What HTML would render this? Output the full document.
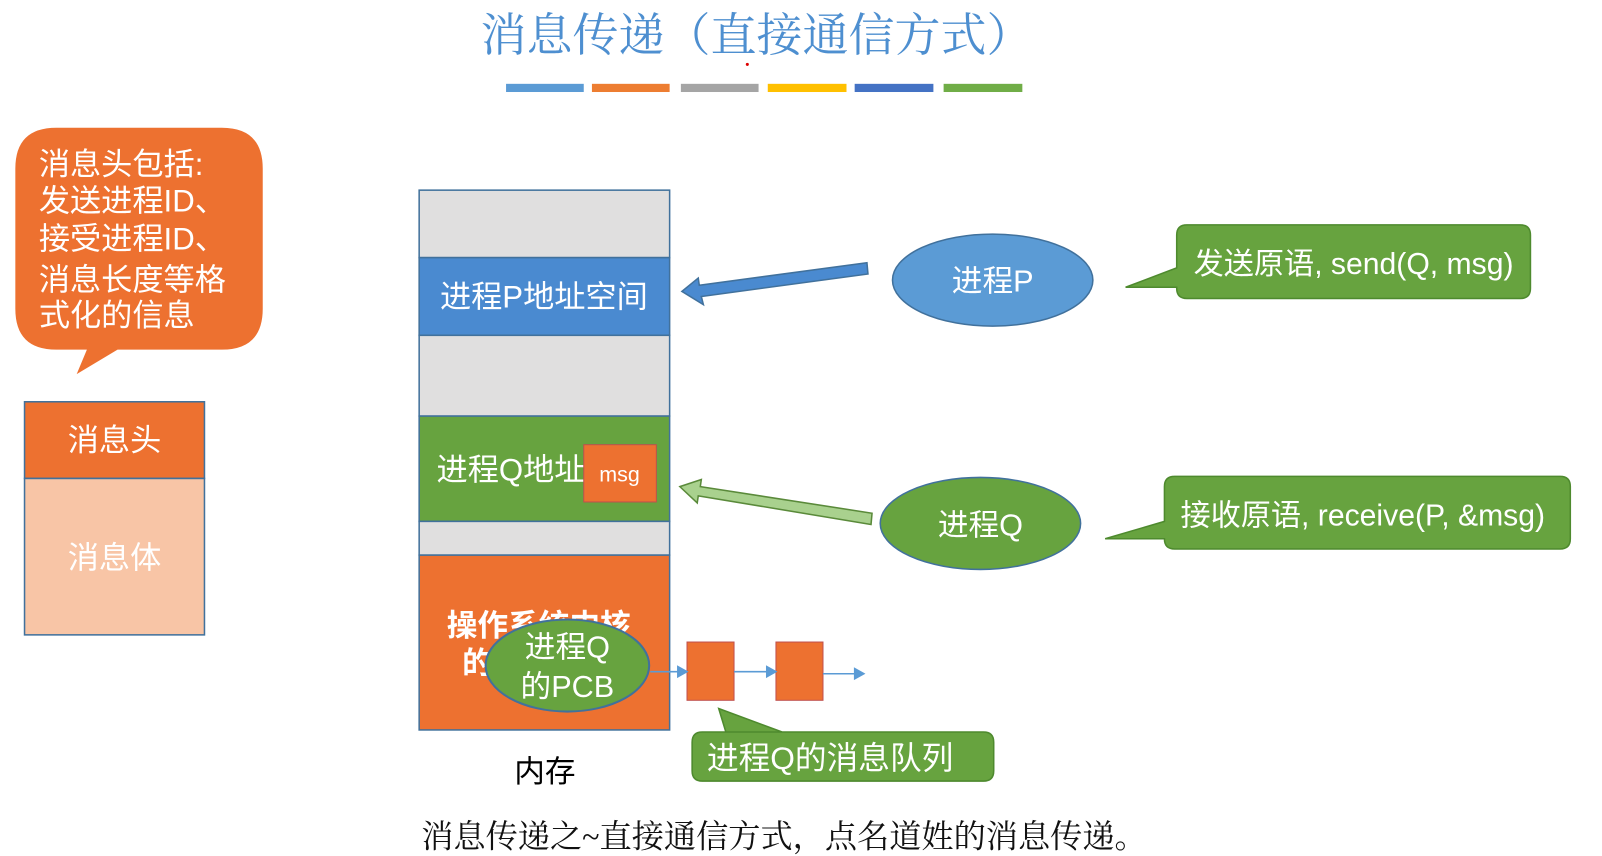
<!DOCTYPE html>
<html><head><meta charset="utf-8"><style>
html,body{margin:0;padding:0;background:#fff;width:1602px;height:856px;overflow:hidden}
svg{display:block}
.s{font-family:"Liberation Sans","Noto Sans CJK SC",sans-serif}
.r{font-family:"Liberation Serif","Noto Serif CJK SC",serif}
</style></head><body>
<svg width="1602" height="856" viewBox="0 0 1567 837.3" preserveAspectRatio="none" xmlns="http://www.w3.org/2000/svg">
<text x="740" y="50" text-anchor="middle" class="r" font-size="45" fill="#4e8fd0">消息传递（直接通信方式）</text>
<circle cx="731" cy="63" r="1.5" fill="#d00"/>
<g stroke-width="0">
<rect x="495" y="82" width="76" height="8" fill="#5b9bd5"/>
<rect x="579" y="82" width="76" height="8" fill="#ed7d31"/>
<rect x="666" y="82" width="76" height="8" fill="#a5a5a5"/>
<rect x="751" y="82" width="77" height="8" fill="#ffc000"/>
<rect x="836" y="82" width="77" height="8" fill="#4472c4"/>
<rect x="923" y="82" width="77" height="8" fill="#70ad47"/>
</g>
<path d="M55,125 H217 Q257,125 257,165 V302 Q257,342 217,342 H115 L75,366 L85,342 H55 Q15,342 15,302 V165 Q15,125 55,125 Z" fill="#ed7130"/>
<g class="s" font-size="30.5" fill="#fff">
<text x="38" y="171">消息头包括:</text>
<text x="38" y="207">发送进程ID、</text>
<text x="38" y="244">接受进程ID、</text>
<text x="38" y="284">消息长度等格</text>
<text x="38" y="319">式化的信息</text>
</g>
<rect x="24" y="393" width="176" height="75" fill="#ed7130" stroke="#41719c" stroke-width="1.5"/>
<rect x="24" y="468" width="176" height="153" fill="#f8c5a6" stroke="#41719c" stroke-width="1.5"/>
<text x="112" y="441" text-anchor="middle" class="s" font-size="30.5" fill="#fff">消息头</text>
<text x="112" y="556" text-anchor="middle" class="s" font-size="30.5" fill="#fff">消息体</text>
<g stroke="#41719c" stroke-width="1.5">
<rect x="410" y="186" width="245" height="66" fill="#e0dfdf"/>
<rect x="410" y="252" width="245" height="76" fill="#4a8ad0"/>
<rect x="410" y="328" width="245" height="79" fill="#e0dfdf"/>
<rect x="410" y="407" width="245" height="103" fill="#67a33f"/>
<rect x="410" y="510" width="245" height="33" fill="#e0dfdf"/>
<rect x="410" y="543" width="245" height="171" fill="#ed7130"/>
</g>
<text x="532" y="301" text-anchor="middle" class="s" font-size="30.5" fill="#fff">进程P地址空间</text>
<text x="427" y="470" class="s" font-size="30.5" fill="#fff">进程Q地址</text>
<rect x="571" y="435" width="71" height="56" fill="#ed7130" stroke="#c0504d" stroke-width="1"/>
<text x="606" y="471" text-anchor="middle" class="s" font-size="21" fill="#fff">msg</text>
<text x="437" y="622" class="s" font-size="30" fill="#fff" font-weight="bold">操作系统内核</text>
<text x="452" y="659" class="s" font-size="30" fill="#fff" font-weight="bold">的</text>
<ellipse cx="555" cy="651" rx="80" ry="45" fill="#67a33f" stroke="#41719c" stroke-width="2"/>
<text x="555" y="643" text-anchor="middle" class="s" font-size="30" fill="#fff">进程Q</text>
<text x="555" y="682" text-anchor="middle" class="s" font-size="30" fill="#fff">的PCB</text>
<text x="533" y="765" text-anchor="middle" class="s" font-size="30" fill="#000">内存</text>
<path d="M848,257 L849,268 L686,290 L688,298 L667,285 L683,272 L684,279 Z" fill="#4a8ad0" stroke="#41719c" stroke-width="1.5"/>
<path d="M853,502 L852,513 L683,485 L682,492 L665,476 L686,469 L685,476 Z" fill="#a9d18e" stroke="#5a8a3a" stroke-width="1.5"/>
<ellipse cx="971" cy="274" rx="98" ry="45" fill="#5b9bd5" stroke="#41719c" stroke-width="1.5"/>
<text x="971" y="285" text-anchor="middle" class="s" font-size="30" fill="#fff">进程P</text>
<ellipse cx="959" cy="512" rx="98" ry="45" fill="#67a33f" stroke="#41719c" stroke-width="1.5"/>
<text x="959" y="524" text-anchor="middle" class="s" font-size="30" fill="#fff">进程Q</text>
<path d="M1161,220 H1487 Q1497,220 1497,230 V282 Q1497,292 1487,292 H1161 Q1151,292 1151,282 V281 L1101,281 L1151,262 V230 Q1151,220 1161,220 Z" fill="#67a33f" stroke="#4e8a2e" stroke-width="1.5"/>
<text x="1324" y="268" text-anchor="middle" class="s" font-size="29.5" fill="#fff">发送原语, send(Q, msg)</text>
<path d="M1149,466 H1526 Q1536,466 1536,476 V527 Q1536,537 1526,537 H1149 Q1139,537 1139,527 L1081,527 L1139,510 V476 Q1139,466 1149,466 Z" fill="#67a33f" stroke="#4e8a2e" stroke-width="1.5"/>
<text x="1333" y="514" text-anchor="middle" class="s" font-size="29.5" fill="#fff">接收原语, receive(P, &amp;msg)</text>
<rect x="672" y="628" width="46" height="57" fill="#ed7130" stroke="#c0504d"/>
<rect x="759" y="628" width="46" height="57" fill="#ed7130" stroke="#c0504d"/>
<g stroke="#5b9bd5" stroke-width="1.5" fill="#5b9bd5">
<line x1="636" y1="657" x2="664" y2="657"/><path d="M672,657 L663,652 L663,662 Z"/>
<line x1="718" y1="657" x2="750" y2="657"/><path d="M759,657 L750,652 L750,662 Z"/>
<line x1="805" y1="659" x2="836" y2="659"/><path d="M845,659 L836,654 L836,664 Z"/>
</g>
<path d="M687,716 H962 Q972,716 972,726 V754 Q972,764 962,764 H687 Q677,764 677,754 V726 Q677,716 687,716 H710 L703,693 L765,716 Z" fill="#67a33f" stroke="#4e8a2e" stroke-width="1.5"/>
<text x="812" y="752" text-anchor="middle" class="s" font-size="31" fill="#fff">进程Q的消息队列</text>
<text x="412" y="829" class="r" font-size="31.5" fill="#111">消息传递之~直接通信方式，点名道姓的消息传递。</text>
</svg>
</body></html>
